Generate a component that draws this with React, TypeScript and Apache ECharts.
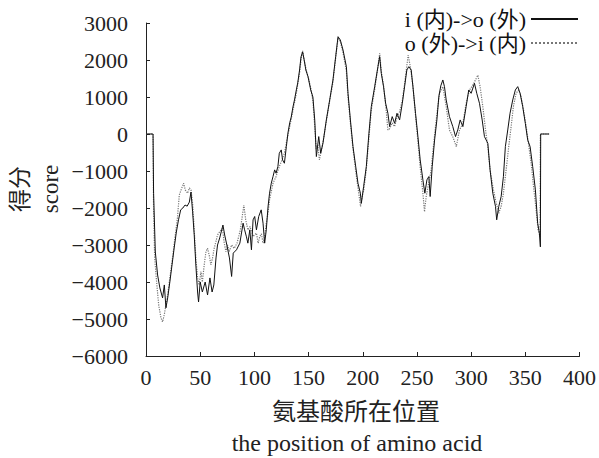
import React, { useEffect, useRef } from "react";
import * as echarts from "echarts";

const seriesNames = ["i (内)->o (外)", "o (外)->i (内)"];

// [position, score] for i(内)->o(外)
const inToOut: [number, number][] = [
  [0, 0], [6.5, 0], [7, -1600], [8.6, -3190], [10.7, -3810], [12.8, -4160], [15.3, -4430], [16.9, -4080],
  [18.4, -4700], [20, -4430], [22, -4000], [24, -3540], [26, -3080], [28, -2650], [30, -2320], [32, -2050],
  [34, -2000], [36, -1920], [38, -1950], [40, -1840], [41.5, -1570], [43, -2100], [44.5, -2730], [46, -3540],
  [47.6, -4270], [48.5, -4540], [50, -4000], [52, -4270], [54.6, -4000], [56.8, -4350], [59, -3890], [61, -4270],
  [62.6, -4080], [64.6, -3350], [66, -3000], [68, -2810], [71, -2460], [72.6, -2730], [74.6, -3000], [77, -3350],
  [79, -3850], [80.5, -3220], [83.5, -3130], [86.6, -2950], [89.6, -2410], [91, -2590], [92.7, -2780], [94, -2950],
  [95.8, -2590], [97.3, -3130], [98.8, -2320], [100.3, -2230], [101.9, -2590], [104, -2230], [106.3, -2050],
  [108, -2410], [109.5, -2950], [111, -2590], [112.6, -1970], [114, -1600], [115.6, -1330], [117.2, -1150],
  [118.7, -970], [120, -1060], [121.7, -880], [123, -520], [124.8, -430], [126, -700], [127.7, -790], [129.5, -340],
  [131, 30], [132.6, 300], [134, 460], [135.6, 730], [137, 920], [138.7, 1190], [140, 1380], [141.7, 1730],
  [143, 2080], [144.5, 2220], [146, 1990], [147.5, 1730], [149.5, 1550], [152, 1190], [154, 1000], [155.7, 380],
  [157.2, -610], [159.4, -70], [161.2, -520], [163.3, -250], [166.4, 380], [169.5, 920], [172.5, 1460], [175, 2090],
  [177.2, 2630], [179.3, 2540], [181.8, 2270], [184.9, 1820], [186.4, 1100], [188.6, 380], [191, -340], [193.5, -880],
  [195.6, -1330], [197.8, -1600], [198.7, -1870], [200.8, -1420], [203.3, -880], [205.7, 20], [207.9, 740],
  [211, 1280], [214, 1820], [215.6, 2090], [217.1, 1640], [219.2, 1280], [221.1, 830], [223.2, 560], [224.8, 200],
  [227.2, 470], [229.4, 290], [231.6, 560], [234, 380], [236.5, 830], [238.6, 1280], [240.7, 1730], [242.5, 1820],
  [244.7, 1730], [246.3, 1280], [248.7, 560], [250.9, -70], [253, -700], [255.5, -1240], [257.3, -1600],
  [259.2, -1240], [261, -1150], [262.2, -1690], [264.1, -880], [266.3, -160], [268.4, 380], [270.2, 1010],
  [272, 1300], [273.9, 1460], [275.4, 1280], [277, 920], [280, 470], [283.1, 200], [285.6, -70], [287.7, 110],
  [289.9, 380], [292.4, 200], [295.4, 740], [297.8, 1190], [300, 1100], [303.1, 1370], [305.2, 1100], [307.7, 830],
  [310.2, 380], [312.3, -70], [315.4, -250], [317.5, -970], [320, -1600], [322.5, -1960], [323.6, -2320],
  [325.5, -1960], [327.7, -1690], [329.8, -1150], [331.6, -340], [333.8, 110], [335.9, 560], [338.4, 920],
  [340.8, 1190], [343, 1280], [345.2, 1100], [347.6, 740], [350, 290], [352.2, -160], [354.4, -340], [356.8, -880],
  [359.3, -1510], [361.4, -2410], [363, -2680], [363.9, -3050], [364.2, 0], [372, 0],
];

// [position, score] for o(外)->i(内)
const outToIn: [number, number][] = [
  [0, 0], [6.5, 0], [7, -2050], [8, -3350], [9.8, -4000], [11.7, -4620], [13.8, -4970], [15.3, -5080],
  [16.9, -4880], [18.4, -4620], [20, -4350], [22, -3890], [24.5, -3350], [27, -2730], [29, -2270], [30.7, -1650],
  [33, -1460], [34.7, -1330], [36.2, -1510], [38.4, -1600], [40, -1460], [41.5, -1510], [43, -1870], [44.5, -2590],
  [46, -3350], [47.6, -3890], [49, -4080], [50.7, -3720], [52, -4000], [53.7, -3540], [55.3, -3180], [56.8, -3090],
  [58.3, -3270], [59.9, -3540], [61.4, -3350], [62.9, -3090], [64.5, -2910], [66, -2730], [68, -2640],
  [70.6, -2550], [72, -2910], [73.7, -3180], [75.2, -3000], [76.8, -3180], [79, -3000], [81.4, -3090],
  [84, -2950], [87, -2600], [90.3, -1920], [92, -2320], [94, -2590], [96, -2500], [98.8, -2770], [101.9, -2680],
  [103.5, -2950], [105, -2770], [106.5, -2700], [108, -2950], [109.5, -2770], [111, -2410], [112.6, -2140],
  [114, -1780], [117.2, -1330], [120, -1150], [123, -880], [125.5, -700], [127.7, -520], [130, -160],
  [132.6, 200], [135.6, 640], [138.7, 1100], [141.7, 1650], [143, 2000], [144.5, 2250], [146, 2000], [148, 1700],
  [150, 1500], [152, 1250], [154, 900], [155.7, 200], [157, -400], [158.5, -300], [160, -700], [162, -400],
  [164, -100], [166.4, 350], [169.5, 900], [172.5, 1400], [175, 2050], [177.2, 2600], [179.3, 2500],
  [181.8, 2200], [184.9, 1700], [186.4, 1000], [188.6, 300], [191, -400], [193.5, -1000], [195.6, -1450],
  [198, -1960], [199.5, -1700], [201, -1500], [203.3, -950], [205.7, -100], [207.9, 650], [211, 1200],
  [214, 1800], [215.6, 2180], [217.1, 1700], [219.2, 1300], [221.1, 800], [223.2, 110], [225, 150],
  [227.2, 300], [229.4, 200], [231.6, 450], [234, 600], [236.5, 900], [238.6, 1350], [240.7, 1850],
  [241.9, 2130], [244, 1800], [246.3, 1300], [248.7, 500], [250.9, -200], [253, -900], [255.5, -1600],
  [257, -2100], [258.5, -1700], [261, -1300], [263, -1000], [265, -400], [267.8, 380], [270.8, 1100],
  [273.9, 1280], [277, 740], [280, 110], [283, -70], [286.3, -340], [289.3, 110], [292.4, 290], [295.4, 830],
  [298.5, 1190], [301.5, 1320], [304, 1460], [306.2, 1590], [308.3, 1280], [310.8, 740], [313.3, 110],
  [315.4, -340], [317.5, -970], [320, -1420], [322.5, -1780], [325.5, -2140], [327.7, -1960], [329.8, -1600],
  [332.3, -970], [334.7, -340], [336.9, 200], [339, 740], [341.5, 1100], [344, 1190], [346.1, 1010],
  [348.3, 650], [350.8, 200], [353.3, -340], [355.4, -790], [357.6, -1420], [360, -2050], [361.8, -2590],
  [363.6, -2770], [363.9, 0], [372, 0],
];

const xTitle = ["氨基酸所在位置", "the position of amino acid"];
const yTitle = ["得分", "score"];

const FONT = "'Liberation Serif', 'Noto Sans CJK SC', serif";

export default function App() {
  const ref = useRef<HTMLDivElement>(null);
  useEffect(() => {
    document.body.style.margin = "0";
    if (!ref.current) return;
    const chart = echarts.init(ref.current, null, { renderer: "svg" });
    chart.setOption({
      animation: false,
      backgroundColor: "#fff",
      grid: { left: 146, top: 23, width: 434.5, height: 333 },
      legend: {
        orient: "vertical",
        right: 15,
        top: 3,
        align: "right",
        itemWidth: 47,
        itemHeight: 14,
        itemGap: 2,
        itemStyle: { opacity: 0 },
        textStyle: { fontFamily: FONT, fontSize: 22, color: "#111" },
        data: seriesNames,
      },
      xAxis: {
        type: "value",
        min: 0,
        max: 400,
        interval: 50,
        splitLine: { show: false },
        axisLine: { onZero: false, lineStyle: { color: "#222", width: 1 } },
        axisTick: { inside: true, length: 4, lineStyle: { color: "#222" } },
        axisLabel: { fontFamily: FONT, fontSize: 22, color: "#222", margin: 10 },
      },
      yAxis: {
        type: "value",
        min: -6000,
        max: 3000,
        interval: 1000,
        splitLine: { show: false },
        axisLine: { show: true, onZero: false, lineStyle: { color: "#222", width: 1 } },
        axisTick: { show: true, inside: true, length: 4, lineStyle: { color: "#222" } },
        axisLabel: {
          fontFamily: FONT,
          fontSize: 22,
          color: "#222",
          margin: 18,
          formatter: (v: number) => (v < 0 ? "\u2212" + Math.abs(v) : String(v)),
        },
      },
      graphic: [
        {
          type: "text", x: 20, y: 189, rotation: Math.PI / 2,
          style: { text: yTitle[0], fontFamily: FONT, fontSize: 23, fill: "#222", textAlign: "center", textVerticalAlign: "middle" },
        },
        {
          type: "text", x: 50, y: 189, rotation: Math.PI / 2,
          style: { text: yTitle[1], fontFamily: FONT, fontSize: 23, fill: "#222", textAlign: "center", textVerticalAlign: "middle" },
        },
        {
          type: "text", x: 356, y: 412,
          style: { text: xTitle[0], fontFamily: FONT, fontSize: 24, fill: "#222", textAlign: "center", textVerticalAlign: "middle" },
        },
        {
          type: "text", x: 357, y: 443,
          style: { text: xTitle[1], fontFamily: FONT, fontSize: 24, fill: "#222", textAlign: "center", textVerticalAlign: "middle" },
        },
      ],
      series: [
        {
          name: seriesNames[0],
          type: "line",
          data: inToOut,
          symbol: "none",
          z: 3,
          lineStyle: { color: "#111", width: 1 },
          itemStyle: { color: "#111" },
        },
        {
          name: seriesNames[1],
          type: "line",
          data: outToIn,
          symbol: "none",
          z: 2,
          lineStyle: { color: "#777", width: 1.2, type: "dotted" },
          itemStyle: { color: "#777" },
        },
      ],
    });
    return () => chart.dispose();
  }, []);
  return <div ref={ref} style={{ width: 599, height: 458 }} />;
}
